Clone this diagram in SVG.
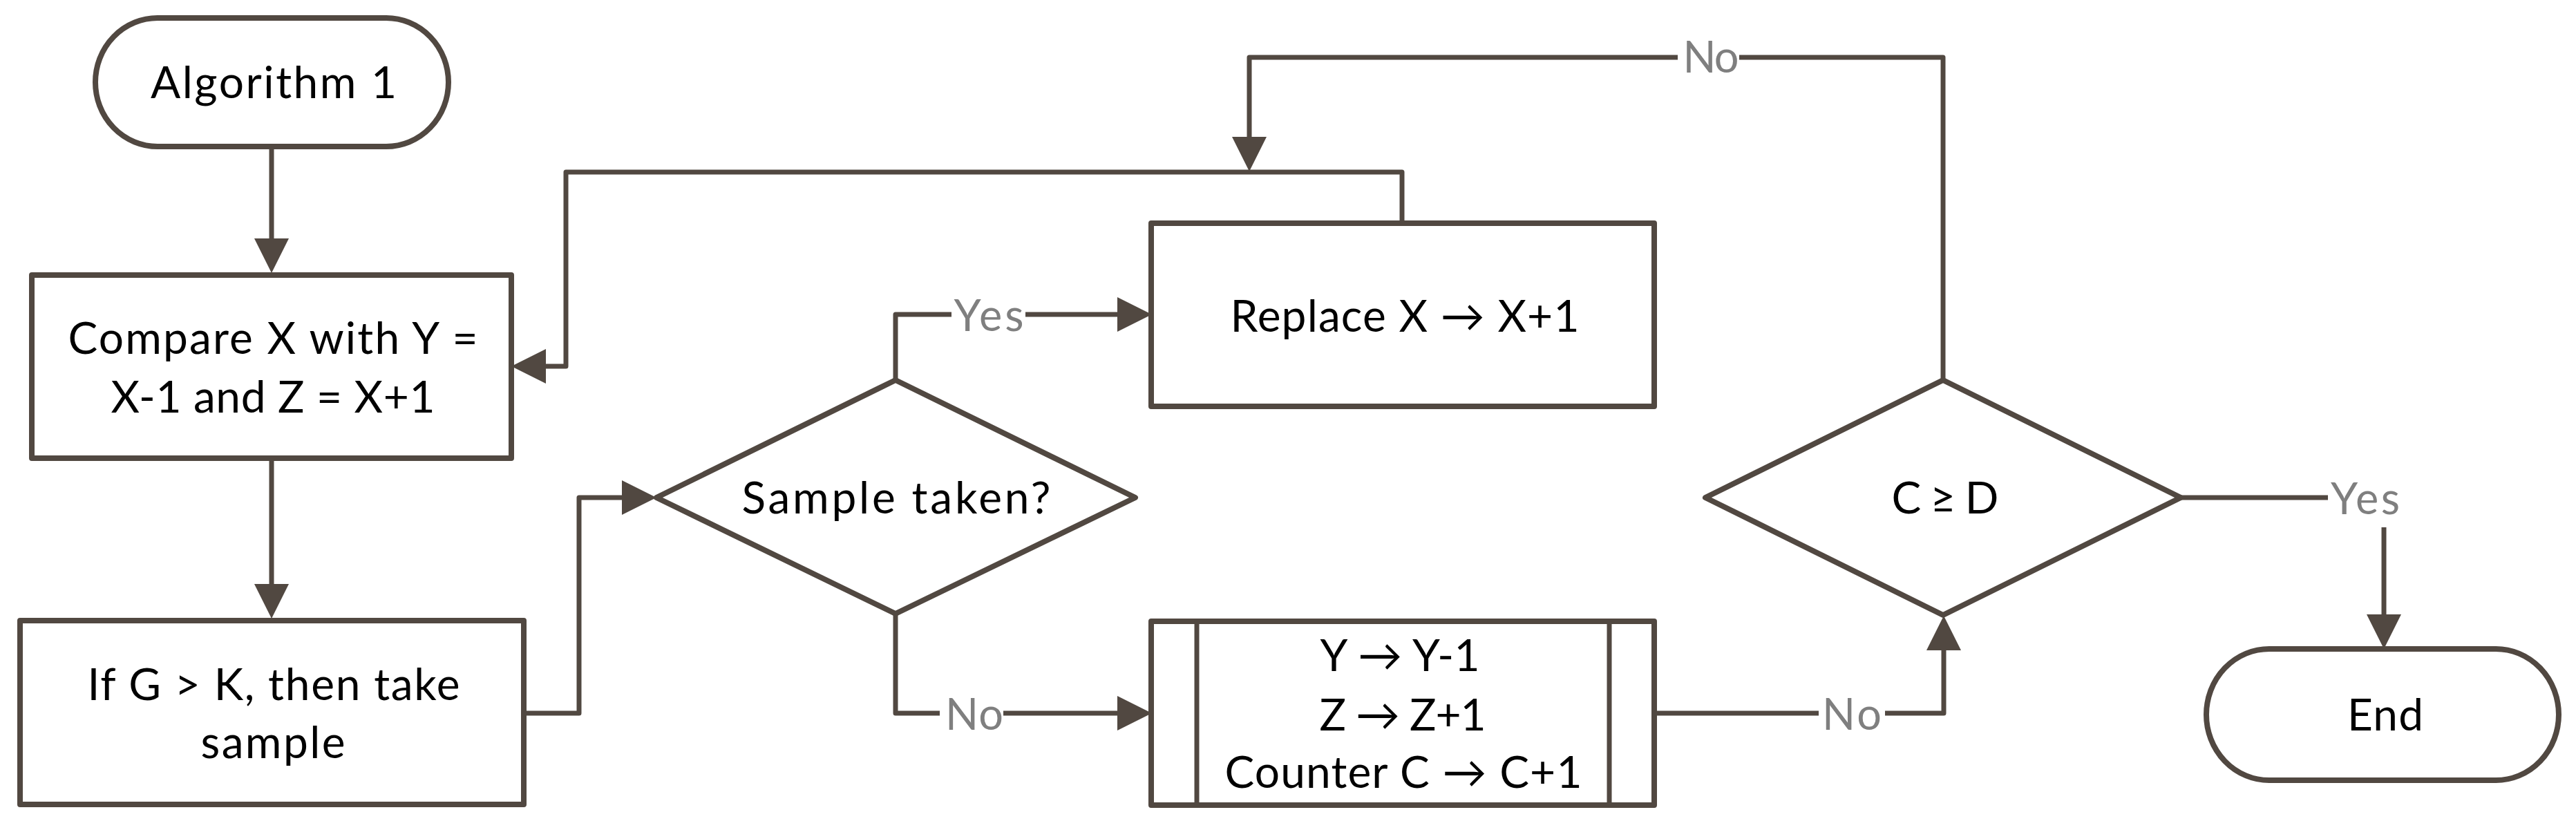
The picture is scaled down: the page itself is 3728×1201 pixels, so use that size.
<svg xmlns="http://www.w3.org/2000/svg" width="3728" height="1201" viewBox="0 0 3728 1201">
<style>
.shape{fill:#ffffff;stroke:#514841;stroke-width:8;stroke-linejoin:round}
.inner{stroke:#514841;stroke-width:7;fill:none}
.conn{fill:none;stroke:#514841;stroke-width:7;stroke-linejoin:round}
.txt{font-family:Lato,"Liberation Sans",sans-serif;font-size:64px;fill:#000000;text-anchor:middle}
.lbl{font-family:Lato,"Liberation Sans",sans-serif;font-size:63px;fill:#7f7f7f;text-anchor:middle}
.lblbg{fill:#ffffff;stroke:none}
</style>
<defs>
<marker id="arrow" markerUnits="userSpaceOnUse" markerWidth="50" markerHeight="50" refX="40" refY="25" orient="auto">
<path d="M0,0 L50,25 L0,50 Z" fill="#514841"/>
</marker>
</defs>
<rect width="3728" height="1201" fill="#ffffff"/>

<g id="start">
<rect class="shape" x="138" y="26" width="511" height="186" rx="90" ry="93"/>
<text class="txt" x="396" y="142" textLength="356">Algorithm 1</text>
</g>

<g id="compare">
<rect class="shape" x="46" y="398" width="694" height="265"/>
<text class="txt" x="395" y="512" textLength="593">Compare X with Y =</text>
<text class="txt" x="395" y="597" textLength="469">X-1 and Z = X+1</text>
</g>

<g id="sample-step">
<rect class="shape" x="29" y="898" width="729" height="266"/>
<text class="txt" x="396" y="1013" textLength="539">If G &gt; K, then take</text>
<text class="txt" x="395" y="1097" textLength="209">sample</text>
</g>

<g id="sample-taken">
<polygon class="shape" points="1296,550 1643,720 1296,888 950,720"/>
<text class="txt" x="1297" y="743" textLength="447">Sample taken?</text>
</g>

<g id="replace">
<rect class="shape" x="1666" y="323" width="728" height="265"/>
<text class="txt" x="2033" y="480" textLength="505">Replace X → X+1</text>
</g>

<g id="update">
<rect class="shape" x="1666" y="899" width="728" height="266"/>
<line class="inner" x1="1732" y1="899" x2="1732" y2="1165"/>
<line class="inner" x1="2329" y1="899" x2="2329" y2="1165"/>
<text class="txt" x="2026" y="971" textLength="231">Y → Y-1</text>
<text class="txt" x="2030" y="1057" textLength="241">Z → Z+1</text>
<text class="txt" x="2031" y="1140" textLength="517">Counter C → C+1</text>
</g>

<g id="check">
<polygon class="shape" points="2812,550 3156,720 2812,890 2468,720"/>
<text class="txt" x="2815" y="743" textLength="155">C ≥ D</text>
</g>

<g id="end">
<rect class="shape" x="3193" y="939" width="510" height="190" rx="91" ry="95"/>
<text class="txt" x="3452" y="1057" textLength="110">End</text>
</g>

<g id="connectors">
<path class="conn" marker-end="url(#arrow)" d="M393,212 L393,385"/>
<path class="conn" marker-end="url(#arrow)" d="M393,663 L393,885"/>
<path class="conn" marker-end="url(#arrow)" d="M758,1032 L838,1032 L838,720 L940,720"/>
<path class="conn" marker-end="url(#arrow)" d="M1296,550 L1296,455 L1657,455"/>
<path class="conn" marker-end="url(#arrow)" d="M1296,888 L1296,1032 L1657,1032"/>
<path class="conn" marker-end="url(#arrow)" d="M2029,323 L2029,249 L819,249 L819,530 L750,530"/>
<path class="conn" marker-end="url(#arrow)" d="M2394,1032 L2813,1032 L2813,901"/>
<path class="conn" marker-end="url(#arrow)" d="M2812,550 L2812,83 L1808,83 L1808,238"/>
<path class="conn" marker-end="url(#arrow)" d="M3156,720 L3369,720 M3450,763 L3450,929"/>
<rect class="lblbg" x="1377" y="425" width="107" height="60"/>
<text class="lbl" x="1431" y="479" textLength="101">Yes</text>
<rect class="lblbg" x="1360" y="1002" width="92" height="60"/>
<text class="lbl" x="1410" y="1056" textLength="84">No</text>
<rect class="lblbg" x="2428" y="53" width="89" height="60"/>
<text class="lbl" x="2476" y="105" textLength="81">No</text>
<rect class="lblbg" x="2632" y="1002" width="96" height="60"/>
<text class="lbl" x="2680" y="1056" textLength="86">No</text>
<text class="lbl" x="3423" y="744" textLength="100">Yes</text>
</g>
</svg>
